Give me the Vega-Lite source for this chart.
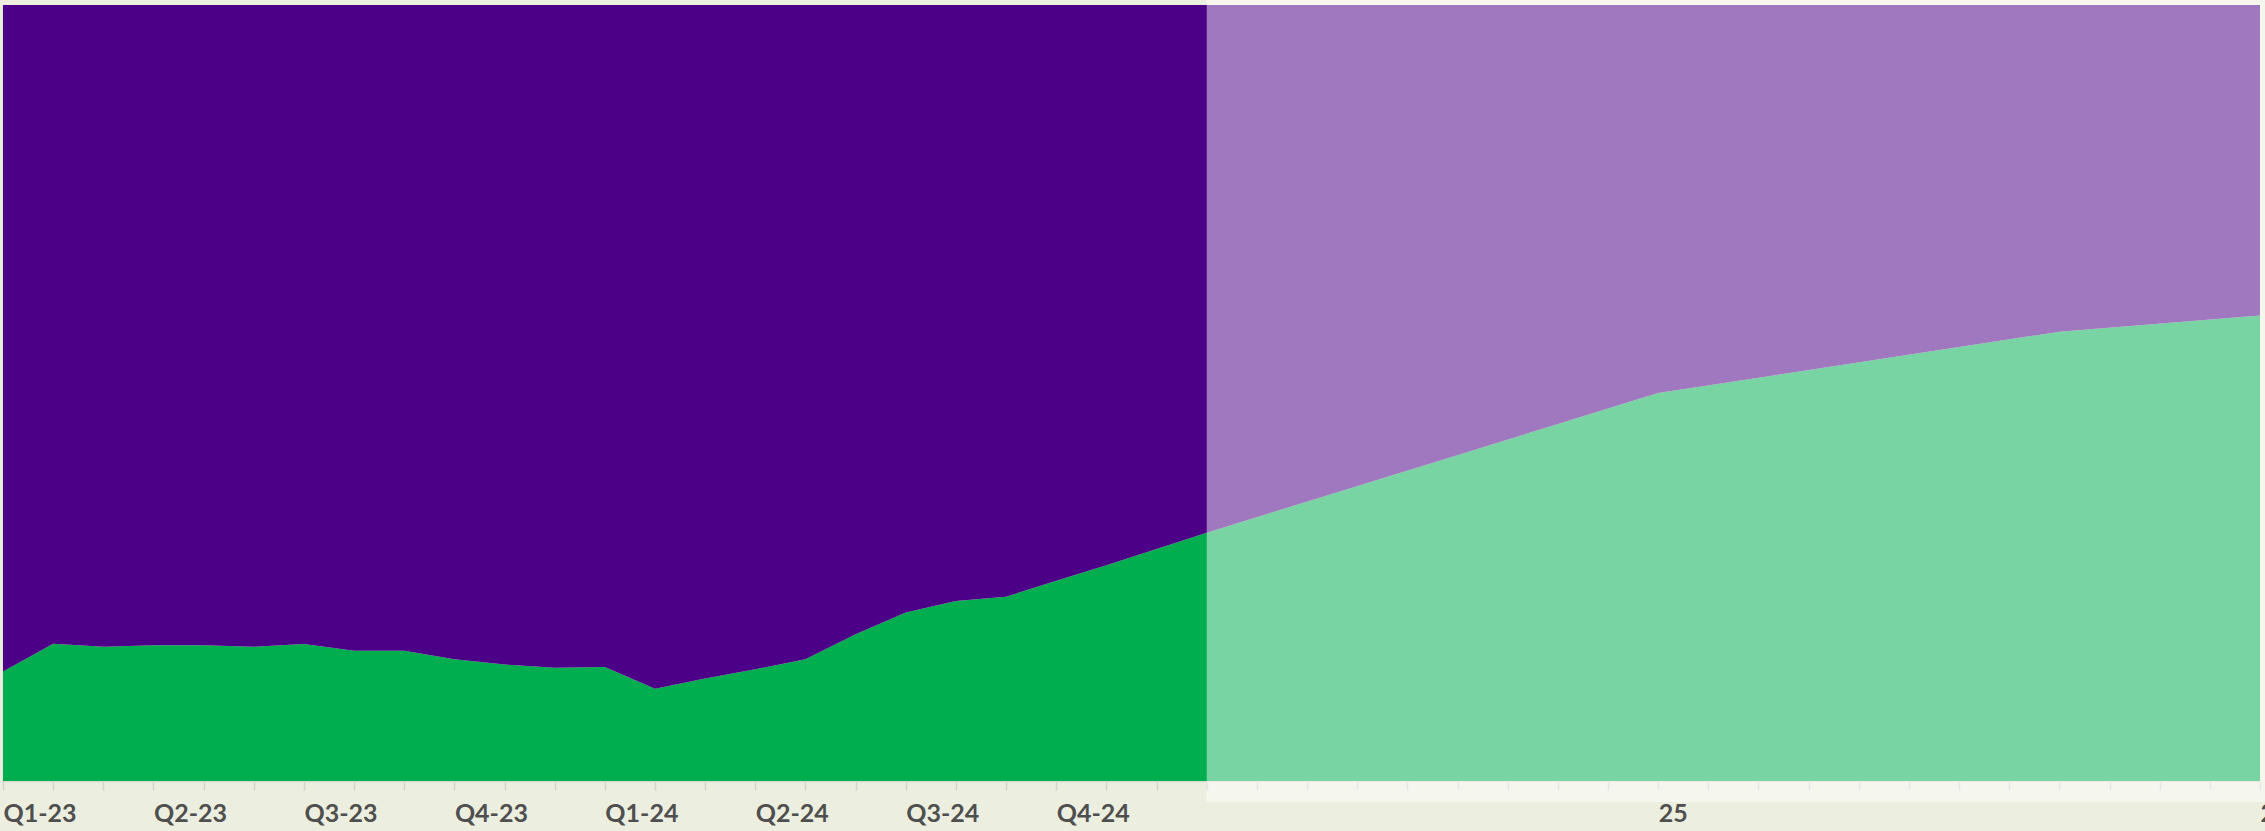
{
  "$schema": "https://vega.github.io/schema/vega-lite/v6.json",
  "autosize": "none",
  "width": 2257,
  "height": 776,
  "padding": {"left": 3, "top": 5, "right": 5, "bottom": 50},
  "background": "#ECEFDF",
  "config": {"view": {"stroke": null}},
  "datasets": {
    "share": [
      {"m": 0, "series": "Series 1", "k": 1, "v": 14.1},
      {"m": 1, "series": "Series 1", "k": 1, "v": 17.7},
      {"m": 2, "series": "Series 1", "k": 1, "v": 17.3},
      {"m": 3, "series": "Series 1", "k": 1, "v": 17.5},
      {"m": 4, "series": "Series 1", "k": 1, "v": 17.5},
      {"m": 5, "series": "Series 1", "k": 1, "v": 17.3},
      {"m": 6, "series": "Series 1", "k": 1, "v": 17.65},
      {"m": 7, "series": "Series 1", "k": 1, "v": 16.8},
      {"m": 8, "series": "Series 1", "k": 1, "v": 16.8},
      {"m": 9, "series": "Series 1", "k": 1, "v": 15.7},
      {"m": 10, "series": "Series 1", "k": 1, "v": 15.0},
      {"m": 11, "series": "Series 1", "k": 1, "v": 14.6},
      {"m": 12, "series": "Series 1", "k": 1, "v": 14.7},
      {"m": 13, "series": "Series 1", "k": 1, "v": 11.9},
      {"m": 14, "series": "Series 1", "k": 1, "v": 13.2},
      {"m": 15, "series": "Series 1", "k": 1, "v": 14.4},
      {"m": 16, "series": "Series 1", "k": 1, "v": 15.7},
      {"m": 17, "series": "Series 1", "k": 1, "v": 18.9},
      {"m": 18, "series": "Series 1", "k": 1, "v": 21.7},
      {"m": 19, "series": "Series 1", "k": 1, "v": 23.2},
      {"m": 20, "series": "Series 1", "k": 1, "v": 23.75},
      {"m": 21, "series": "Series 1", "k": 1, "v": 25.8},
      {"m": 22, "series": "Series 1", "k": 1, "v": 27.8},
      {"m": 23, "series": "Series 1", "k": 1, "v": 29.9},
      {"m": 24, "series": "Series 1", "k": 1, "v": 32.0},
      {"m": 33, "series": "Series 1", "k": 1, "v": 50.0},
      {"m": 41, "series": "Series 1", "k": 1, "v": 57.9},
      {"m": 45, "series": "Series 1", "k": 1, "v": 60.0},
      {"m": 0, "series": "Series 2", "k": 2, "v": 85.9},
      {"m": 1, "series": "Series 2", "k": 2, "v": 82.3},
      {"m": 2, "series": "Series 2", "k": 2, "v": 82.7},
      {"m": 3, "series": "Series 2", "k": 2, "v": 82.5},
      {"m": 4, "series": "Series 2", "k": 2, "v": 82.5},
      {"m": 5, "series": "Series 2", "k": 2, "v": 82.7},
      {"m": 6, "series": "Series 2", "k": 2, "v": 82.35},
      {"m": 7, "series": "Series 2", "k": 2, "v": 83.2},
      {"m": 8, "series": "Series 2", "k": 2, "v": 83.2},
      {"m": 9, "series": "Series 2", "k": 2, "v": 84.3},
      {"m": 10, "series": "Series 2", "k": 2, "v": 85.0},
      {"m": 11, "series": "Series 2", "k": 2, "v": 85.4},
      {"m": 12, "series": "Series 2", "k": 2, "v": 85.3},
      {"m": 13, "series": "Series 2", "k": 2, "v": 88.1},
      {"m": 14, "series": "Series 2", "k": 2, "v": 86.8},
      {"m": 15, "series": "Series 2", "k": 2, "v": 85.6},
      {"m": 16, "series": "Series 2", "k": 2, "v": 84.3},
      {"m": 17, "series": "Series 2", "k": 2, "v": 81.1},
      {"m": 18, "series": "Series 2", "k": 2, "v": 78.3},
      {"m": 19, "series": "Series 2", "k": 2, "v": 76.8},
      {"m": 20, "series": "Series 2", "k": 2, "v": 76.25},
      {"m": 21, "series": "Series 2", "k": 2, "v": 74.2},
      {"m": 22, "series": "Series 2", "k": 2, "v": 72.2},
      {"m": 23, "series": "Series 2", "k": 2, "v": 70.1},
      {"m": 24, "series": "Series 2", "k": 2, "v": 68.0},
      {"m": 33, "series": "Series 2", "k": 2, "v": 50.0},
      {"m": 41, "series": "Series 2", "k": 2, "v": 42.1},
      {"m": 45, "series": "Series 2", "k": 2, "v": 40.0}
    ],
    "forecast": [
      {"start": 24, "end": 45.1}
    ]
  },
  "layer": [
    {
      "data": {"name": "share"},
      "mark": {"type": "area", "interpolate": "linear"},
      "encoding": {
        "x": {
          "field": "m",
          "type": "quantitative",
          "scale": {"domain": [0, 45], "nice": false, "zero": false},
          "axis": {
            "title": null,
            "values": [0,1,2,3,4,5,6,7,8,9,10,11,12,13,14,15,16,17,18,19,20,21,22,23,24,25,26,27,28,29,30,31,32,33,34,35,36,37,38,39,40,41,42,43,44,45],
            "labelExpr": "datum.value <= 21 && datum.value % 3 == 0 ? 'Q' + (floor((datum.value % 12) / 3) + 1) + '-' + (23 + floor(datum.value / 12)) : datum.value == 33 ? '25' : datum.value == 45 ? '26' : ''",
            "labelAlign": "left",
            "labelBaseline": "top",
            "labelFont": "Lato",
            "labelFontWeight": "bold",
            "labelFontSize": 25,
            "labelColor": "#4f4f4f",
            "labelPadding": 11,
            "labelOverlap": false,
            "labelFlush": false,
            "labelBound": false,
            "tickSize": 9,
            "tickWidth": 1.5,
            "tickColor": "#d2d4d0",
            "domainColor": "#d8dbd0",
            "domainWidth": 1.5,
            "grid": false
          }
        },
        "y": {
          "field": "v",
          "type": "quantitative",
          "stack": "zero",
          "scale": {"domain": [0, 100], "nice": false},
          "axis": {"title": null, "labels": false, "ticks": false, "grid": false, "domain": true, "domainColor": "#c4c4c4", "domainWidth": 1.5}
        },
        "color": {
          "field": "series",
          "type": "nominal",
          "scale": {"domain": ["Series 1", "Series 2"], "range": ["#00AE50", "#4B0087"]},
          "legend": null
        },
        "order": {"field": "k", "type": "quantitative"}
      }
    },
    {
      "data": {"name": "forecast"},
      "mark": {"type": "rect", "color": "#ffffff", "opacity": 0.47, "clip": false},
      "encoding": {
        "x": {"field": "start", "type": "quantitative"},
        "x2": {"field": "end"},
        "y": {"datum": -2.706, "type": "quantitative"},
        "y2": {"datum": 100.644}
      }
    }
  ]
}
